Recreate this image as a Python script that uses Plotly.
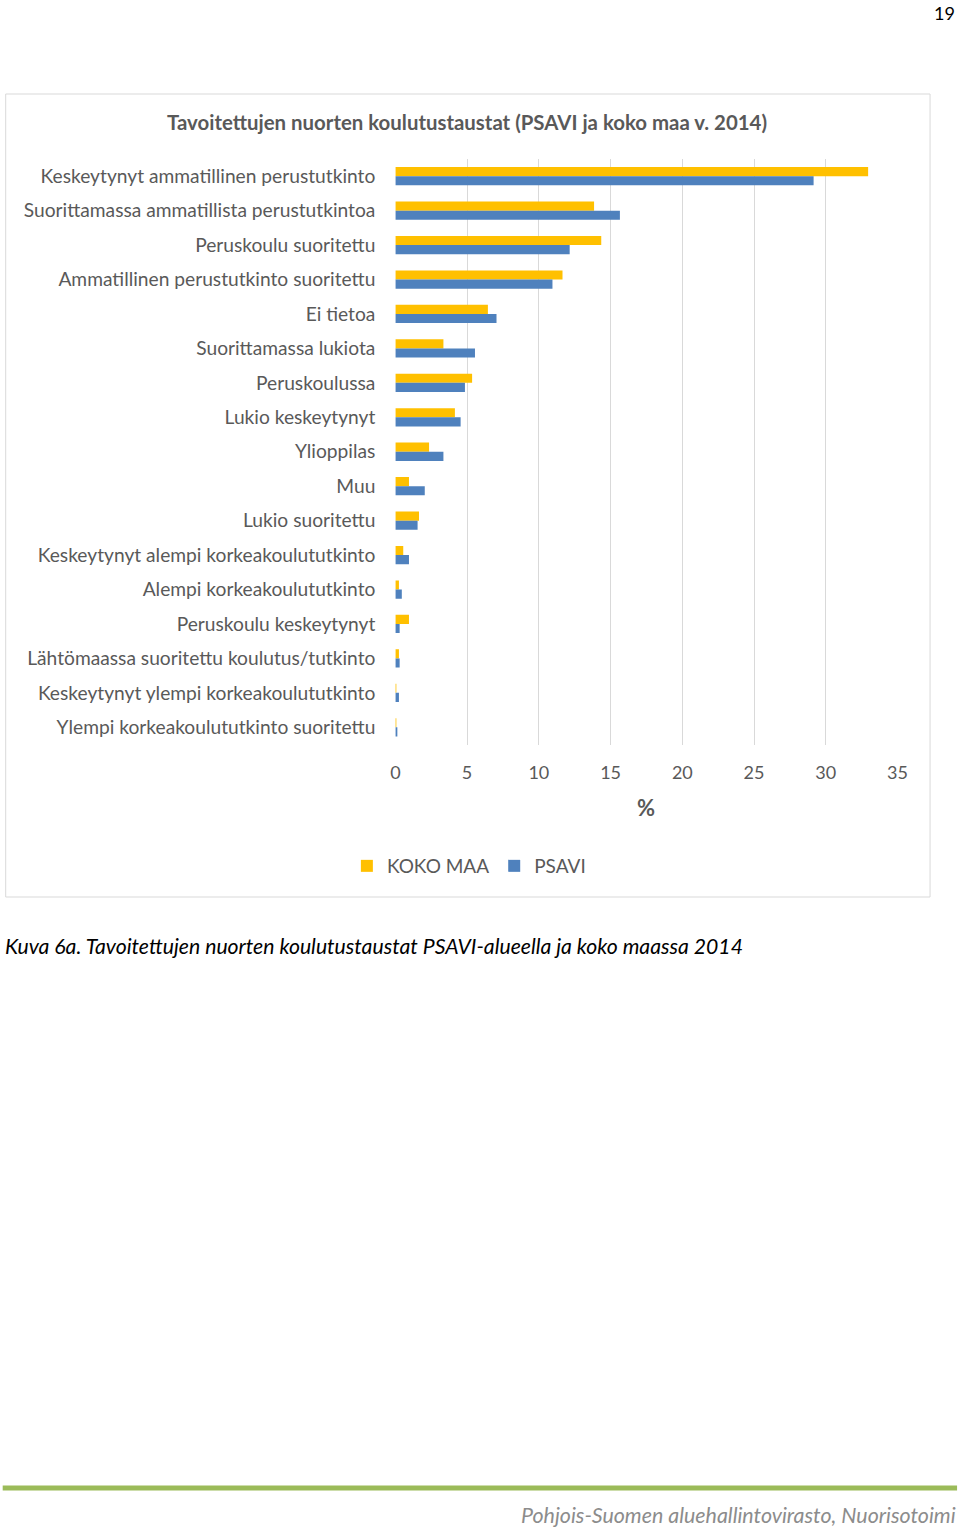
import plotly.graph_objects as go

W, H = 960, 1529

categories = [
    "Keskeytynyt ammatillinen perustutkinto",
    "Suorittamassa ammatillista perustutkintoa",
    "Peruskoulu suoritettu",
    "Ammatillinen perustutkinto suoritettu",
    "Ei tietoa",
    "Suorittamassa lukiota",
    "Peruskoulussa",
    "Lukio keskeytynyt",
    "Ylioppilas",
    "Muu",
    "Lukio suoritettu",
    "Keskeytynyt alempi korkeakoulututkinto",
    "Alempi korkeakoulututkinto",
    "Peruskoulu keskeytynyt",
    "Lähtömaassa suoritettu koulutus/tutkinto",
    "Keskeytynyt ylempi korkeakoulututkinto",
    "Ylempi korkeakoulututkinto suoritettu",
]
koko_maa = [32.95, 13.85, 14.35, 11.65, 6.45, 3.35, 5.35, 4.15, 2.35, 0.95, 1.65, 0.55, 0.25, 0.95, 0.25, 0.05, 0.05]
psavi = [29.15, 15.65, 12.15, 10.95, 7.05, 5.55, 4.85, 4.55, 3.35, 2.05, 1.55, 0.95, 0.45, 0.3, 0.3, 0.25, 0.1]
x_ticks = [0, 5, 10, 15, 20, 25, 30, 35]

GREY = "#595959"
FONT = "Lato"

fig = go.Figure()
fig.add_trace(go.Bar(y=categories, x=koko_maa, name="KOKO MAA", orientation="h",
                     marker=dict(color="#FFC000", line=dict(width=0))))
fig.add_trace(go.Bar(y=categories, x=psavi, name="PSAVI", orientation="h",
                     marker=dict(color="#4F81BD", line=dict(width=0))))

# horizontal compensation for the observed rendering (x' = 0.984 x + 5.3)
def px(x):
    return ((x - 5.3) / 0.984) / W

def py(y):
    return 1 - y / H

fig.update_layout(
    width=W, height=H, autosize=False,
    margin=dict(l=0, r=0, t=0, b=0),
    paper_bgcolor="white", plot_bgcolor="white",
    barmode="group", bargap=0.47, bargroupgap=0,
    font=dict(family=FONT, color=GREY),
    showlegend=True,
    legend=dict(orientation="h", x=px(469), y=py(866), xanchor="center", yanchor="middle",
                font=dict(size=19, color=GREY, family=FONT), itemsizing="constant",
                traceorder="normal", itemwidth=30),
    xaxis=dict(domain=[px(395.5), px(897.5)], range=[0, 35], tickvals=x_ticks,
               showgrid=True, gridcolor="#D9D9D9", gridwidth=1, zeroline=False,
               showline=False, ticks="", tickfont=dict(size=18, color=GREY),
               ticklabelstandoff=15, fixedrange=True),
    yaxis=dict(domain=[py(744.5), py(159)], autorange="reversed",
               categoryorder="array", categoryarray=categories,
               showgrid=False, zeroline=False, showline=False, ticks="",
               tickfont=dict(size=19.2, color=GREY), ticklabelstandoff=19, fixedrange=True),
)

# chart border
fig.add_shape(type="rect", xref="paper", yref="paper", x0=px(6), x1=px(930), y0=py(897), y1=py(94),
              line=dict(color="#D9D9D9", width=1), fillcolor="rgba(0,0,0,0)", layer="below")

# chart title
fig.add_annotation(text="<b>Tavoitettujen nuorten koulutustaustat (PSAVI ja koko maa v. 2014)</b>",
                   xref="paper", yref="paper", x=px(467.5), y=py(122), showarrow=False,
                   xanchor="center", yanchor="middle", font=dict(size=20.4, color=GREY, family=FONT))
# axis title
fig.add_annotation(text="<b>%</b>", xref="paper", yref="paper", x=px(646), y=py(807), showarrow=False,
                   xanchor="center", yanchor="middle", font=dict(size=22, color=GREY, family=FONT))
# page number
fig.add_annotation(text="19", xref="paper", yref="paper", x=px(957), y=py(13), showarrow=False,
                   xanchor="right", yanchor="middle", font=dict(size=18, color="#000000", family=FONT))
# caption
fig.add_annotation(text="<i>Kuva 6a. Tavoitettujen nuorten koulutustaustat PSAVI-alueella ja koko maassa 2014</i>",
                   xref="paper", yref="paper", x=px(3), y=py(946), showarrow=False,
                   xanchor="left", yanchor="middle", font=dict(size=21.2, color="#000000", family=FONT))
# green line
fig.add_shape(type="line", xref="paper", yref="paper", x0=px(3), x1=px(957), y0=py(1488), y1=py(1488),
              line=dict(color="#9BBB59", width=5))
# footer
fig.add_annotation(text="<i>Pohjois-Suomen aluehallintovirasto, Nuorisotoimi</i>",
                   xref="paper", yref="paper", x=px(958), y=py(1515), showarrow=False,
                   xanchor="right", yanchor="middle", font=dict(size=21.4, color="#8C8C8C", family=FONT))

fig.write_html(
    "out.html",
    config={"displayModeBar": False, "responsive": False},
    post_script="document.body.style.margin='0';document.body.style.padding='0';"
                "document.documentElement.style.overflow='hidden';document.body.style.overflow='hidden';",
)
